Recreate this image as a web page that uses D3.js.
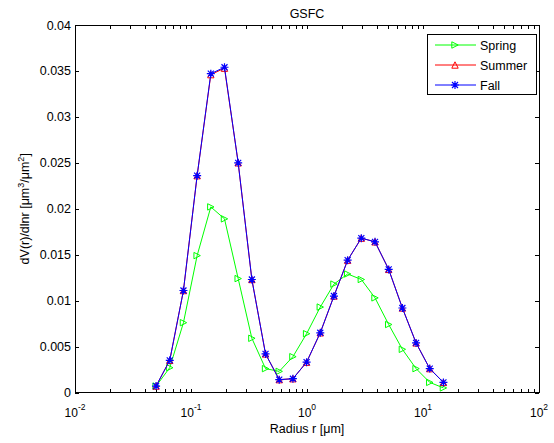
<!DOCTYPE html>
<html>
<head>
<meta charset="utf-8">
<script src="https://cdn.jsdelivr.net/npm/d3@7"></script>
<style>
  body { margin: 0; background: #fff; }
  svg { display: block; font-family: "Liberation Sans", Arial, sans-serif; }
</style>
</head>
<body>
<svg id="chart" width="554" height="443"></svg>
<script>
// AERONET 22-bin radii (µm)
const radii = [0.05, 0.065604, 0.086077, 0.112939, 0.148184, 0.194429, 0.255105, 0.334716,
  0.439173, 0.576227, 0.756052, 0.991996, 1.301571, 1.707757, 2.240702, 2.939966,
  3.857452, 5.06126, 6.640745, 8.713145, 11.432287, 15.0];

const spring = [0.0007, 0.0027, 0.0076, 0.0149, 0.0202, 0.0189, 0.0124, 0.0059,
  0.0026, 0.0023, 0.0039, 0.0064, 0.0093, 0.0118, 0.0129, 0.0123,
  0.0103, 0.0074, 0.0047, 0.0026, 0.0011, 0.0005];

const summer = [0.0007, 0.0035, 0.0111, 0.0236, 0.0346, 0.0353, 0.0250, 0.0123,
  0.0042, 0.0014, 0.0015, 0.0033, 0.0065, 0.0105, 0.0144, 0.0168,
  0.0164, 0.0134, 0.0092, 0.0054, 0.0026, 0.0011];

const fall = [0.0007, 0.0035, 0.0111, 0.0236, 0.0347, 0.0354, 0.0250, 0.0123,
  0.0042, 0.0014, 0.0015, 0.0033, 0.0065, 0.0105, 0.0144, 0.0168,
  0.0164, 0.0134, 0.0092, 0.0054, 0.0026, 0.0011];

const seriesNames = ["Spring", "Summer", "Fall"];
const seriesColors = ["#00ff00", "#ff0000", "#0000ff"];
const seriesMarkers = ["triRight", "triUp", "star"];
const seriesValues = [spring, summer, fall];

const yTicks = [0, 0.005, 0.01, 0.015, 0.02, 0.025, 0.03, 0.035, 0.04];
const yTickLabels = ["0", "0.005", "0.01", "0.015", "0.02", "0.025", "0.03", "0.035", "0.04"];
const xDecades = [-2, -1, 0, 1, 2];

const svg = d3.select("#chart");
const L = 75, R = 539, T = 25, B = 392.5;

const x = d3.scaleLog().domain([0.01, 100]).range([L, R]);
const y = d3.scaleLinear().domain([0, 0.04]).range([B, T]);

// axes box
svg.append("rect").attr("x", L).attr("y", T).attr("width", R - L).attr("height", B - T)
  .attr("fill", "#fff").attr("stroke", "#000").attr("stroke-width", 1).attr("shape-rendering", "crispEdges");

const tickLen = 4;
// x ticks (major + minor), bottom and top, pointing inward
const xTickVals = [];
for (let e = -2; e < 2; e++) for (let m = 1; m <= 9; m++) xTickVals.push(m * Math.pow(10, e));
xTickVals.push(100);
const tg = svg.append("g").attr("stroke", "#000").attr("stroke-width", 1).attr("shape-rendering", "crispEdges");
xTickVals.forEach(v => {
  const px = Math.round(x(v)) + 0.5;
  tg.append("line").attr("x1", px).attr("x2", px).attr("y1", B).attr("y2", B - tickLen);
  tg.append("line").attr("x1", px).attr("x2", px).attr("y1", T).attr("y2", T + tickLen);
});
yTicks.forEach(v => {
  const py = Math.round(y(v)) + 0.5;
  tg.append("line").attr("x1", L).attr("x2", L + tickLen).attr("y1", py).attr("y2", py);
  tg.append("line").attr("x1", R).attr("x2", R - tickLen).attr("y1", py).attr("y2", py);
});

// y tick labels
svg.append("g").selectAll("text").data(yTicks).join("text")
  .attr("x", L - 4).attr("y", d => y(d) + 4.5)
  .attr("text-anchor", "end").attr("font-size", 12.5).attr("fill", "#000")
  .text((d, i) => yTickLabels[i]);

// x tick labels: 10 with superscript exponent
const xl = svg.append("g");
xDecades.forEach(e => {
  const t = xl.append("text").attr("x", x(Math.pow(10, e))).attr("y", 416.5)
    .attr("text-anchor", "middle").attr("font-size", 12).attr("fill", "#000");
  t.append("tspan").text("10");
  t.append("tspan").attr("dy", -7).attr("font-size", 8.5).text(String(e));
});

// title and axis labels
svg.append("text").attr("x", (L + R) / 2).attr("y", 18).attr("text-anchor", "middle")
  .attr("font-size", 12.5).text("GSFC");
svg.append("text").attr("x", (L + R) / 2).attr("y", 433).attr("text-anchor", "middle")
  .attr("font-size", 12.5).text("Radius r [μm]");
const yl = svg.append("text").attr("transform", `translate(29,${(T + B) / 2}) rotate(-90)`)
  .attr("text-anchor", "middle").attr("font-size", 12.5);
yl.append("tspan").text("dV(r)/dlnr [μm");
yl.append("tspan").attr("dy", -5).attr("font-size", 9).text("3");
yl.append("tspan").attr("dy", 5).text("/μm");
yl.append("tspan").attr("dy", -5).attr("font-size", 9).text("2");
yl.append("tspan").attr("dy", 5).text("]");

// marker drawing
function drawMarker(g, kind, cx, cy, color) {
  if (kind === "triRight") {
    const s = 3.2;
    g.append("path").attr("d", `M${cx - s},${cy - s}L${cx + s},${cy}L${cx - s},${cy + s}Z`)
      .attr("fill", "none").attr("stroke", color).attr("stroke-width", 1);
  } else if (kind === "triUp") {
    const s = 3.2;
    g.append("path").attr("d", `M${cx},${cy - s}L${cx + s},${cy + s}L${cx - s},${cy + s}Z`)
      .attr("fill", "none").attr("stroke", color).attr("stroke-width", 1);
  } else {
    const s = 4, d = 3;
    g.append("path")
      .attr("d", `M${cx - s},${cy}L${cx + s},${cy}M${cx},${cy - s}L${cx},${cy + s}` +
        `M${cx - d},${cy - d}L${cx + d},${cy + d}M${cx - d},${cy + d}L${cx + d},${cy - d}`)
      .attr("stroke", color).attr("stroke-width", 1.2).attr("fill", "none");
  }
}

const line = d3.line().x(d => x(d[0])).y(d => y(d[1]));
seriesValues.forEach((vals, i) => {
  const pts = radii.map((r, j) => [r, vals[j]]);
  const g = svg.append("g");
  g.append("path").datum(pts).attr("d", line).attr("fill", "none")
    .attr("stroke", seriesColors[i]).attr("stroke-width", 1);
  pts.forEach(p => drawMarker(g, seriesMarkers[i], x(p[0]), y(p[1]), seriesColors[i]));
});

// legend
const lg = svg.append("g");
lg.append("rect").attr("x", 427.5).attr("y", 34.5).attr("width", 109).attr("height", 60)
  .attr("fill", "#fff").attr("stroke", "#000").attr("stroke-width", 1).attr("shape-rendering", "crispEdges");
seriesNames.forEach((name, i) => {
  const ly = 45 + i * 20;
  lg.append("line").attr("x1", 435).attr("x2", 476).attr("y1", ly).attr("y2", ly)
    .attr("stroke", seriesColors[i]).attr("stroke-width", 1);
  drawMarker(lg, seriesMarkers[i], 455, ly, seriesColors[i]);
  lg.append("text").attr("x", 480).attr("y", ly + 4.5).attr("font-size", 12.5).text(name);
});
</script>
</body>
</html>
